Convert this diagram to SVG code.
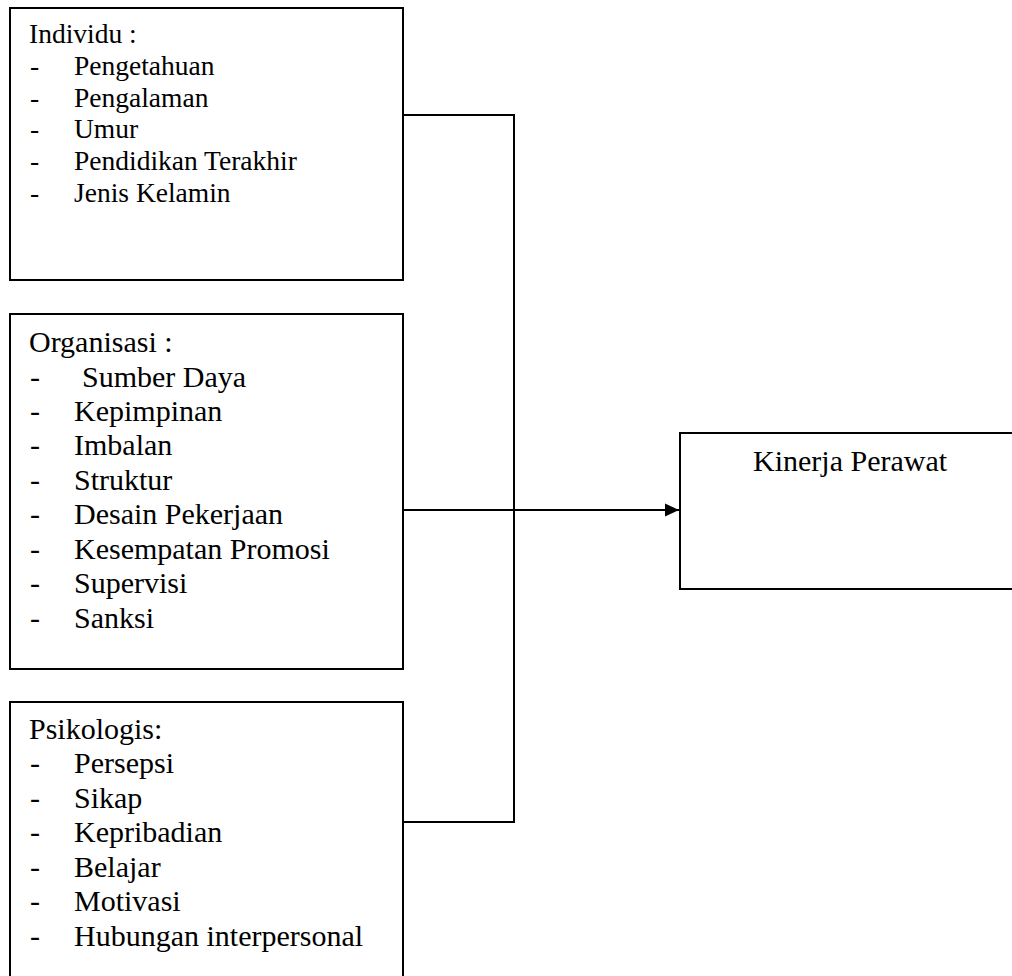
<svg xmlns="http://www.w3.org/2000/svg" width="1012" height="976" viewBox="0 0 1012 976" font-family="'Liberation Serif', 'Times New Roman', Times, serif">
<style>
.box{fill:#fff;stroke:#000;stroke-width:2}
.ln{fill:none;stroke:#000;stroke-width:2}
.t{font-family:'Liberation Serif','Times New Roman',Times,serif;font-size:30px;fill:#000}
.s{font-size:27.5px}
</style>
<defs>
<marker id="arr" markerWidth="14" markerHeight="14" refX="14" refY="7" orient="auto" markerUnits="userSpaceOnUse">
<path d="M0,0.5 L14,7 L0,13.5 Z" fill="#000"/>
</marker>
</defs>
<rect width="1012" height="976" fill="#fff"/>
<g id="connectors">
<polyline class="ln" points="403,115 514,115 514,822 403,822"/>
<line class="ln" x1="403" y1="510" x2="679" y2="510" marker-end="url(#arr)"/>
</g>
<g id="individu" class="t s">
<rect class="box" x="10" y="8" width="393" height="272"/>
<text x="29" y="43">Individu :</text>
<text x="30" y="75">-</text><text x="74" y="75">Pengetahuan</text>
<text x="30" y="107">-</text><text x="74" y="107">Pengalaman</text>
<text x="30" y="138">-</text><text x="74" y="138">Umur</text>
<text x="30" y="170">-</text><text x="74" y="170">Pendidikan Terakhir</text>
<text x="30" y="202">-</text><text x="74" y="202">Jenis Kelamin</text>
</g>
<g id="organisasi" class="t">
<rect class="box" x="10" y="314" width="393" height="355"/>
<text x="29" y="352">Organisasi :</text>
<text x="30" y="387">-</text><text x="82" y="387">Sumber Daya</text>
<text x="30" y="421">-</text><text x="74" y="421">Kepimpinan</text>
<text x="30" y="455">-</text><text x="74" y="455">Imbalan</text>
<text x="30" y="490">-</text><text x="74" y="490">Struktur</text>
<text x="30" y="524">-</text><text x="74" y="524">Desain Pekerjaan</text>
<text x="30" y="559">-</text><text x="74" y="559">Kesempatan Promosi</text>
<text x="30" y="593">-</text><text x="74" y="593">Supervisi</text>
<text x="30" y="628">-</text><text x="74" y="628">Sanksi</text>
</g>
<g id="psikologis" class="t">
<rect class="box" x="10" y="702" width="393" height="290"/>
<text x="29" y="739">Psikologis:</text>
<text x="30" y="773">-</text><text x="74" y="773">Persepsi</text>
<text x="30" y="808">-</text><text x="74" y="808">Sikap</text>
<text x="30" y="842">-</text><text x="74" y="842">Kepribadian</text>
<text x="30" y="877">-</text><text x="74" y="877">Belajar</text>
<text x="30" y="911">-</text><text x="74" y="911">Motivasi</text>
<text x="30" y="946">-</text><text x="74" y="946">Hubungan interpersonal</text>
</g>
<g id="kinerja" class="t">
<rect class="box" x="680" y="433" width="340" height="156"/>
<text x="753" y="471">Kinerja Perawat</text>
</g>
</svg>
